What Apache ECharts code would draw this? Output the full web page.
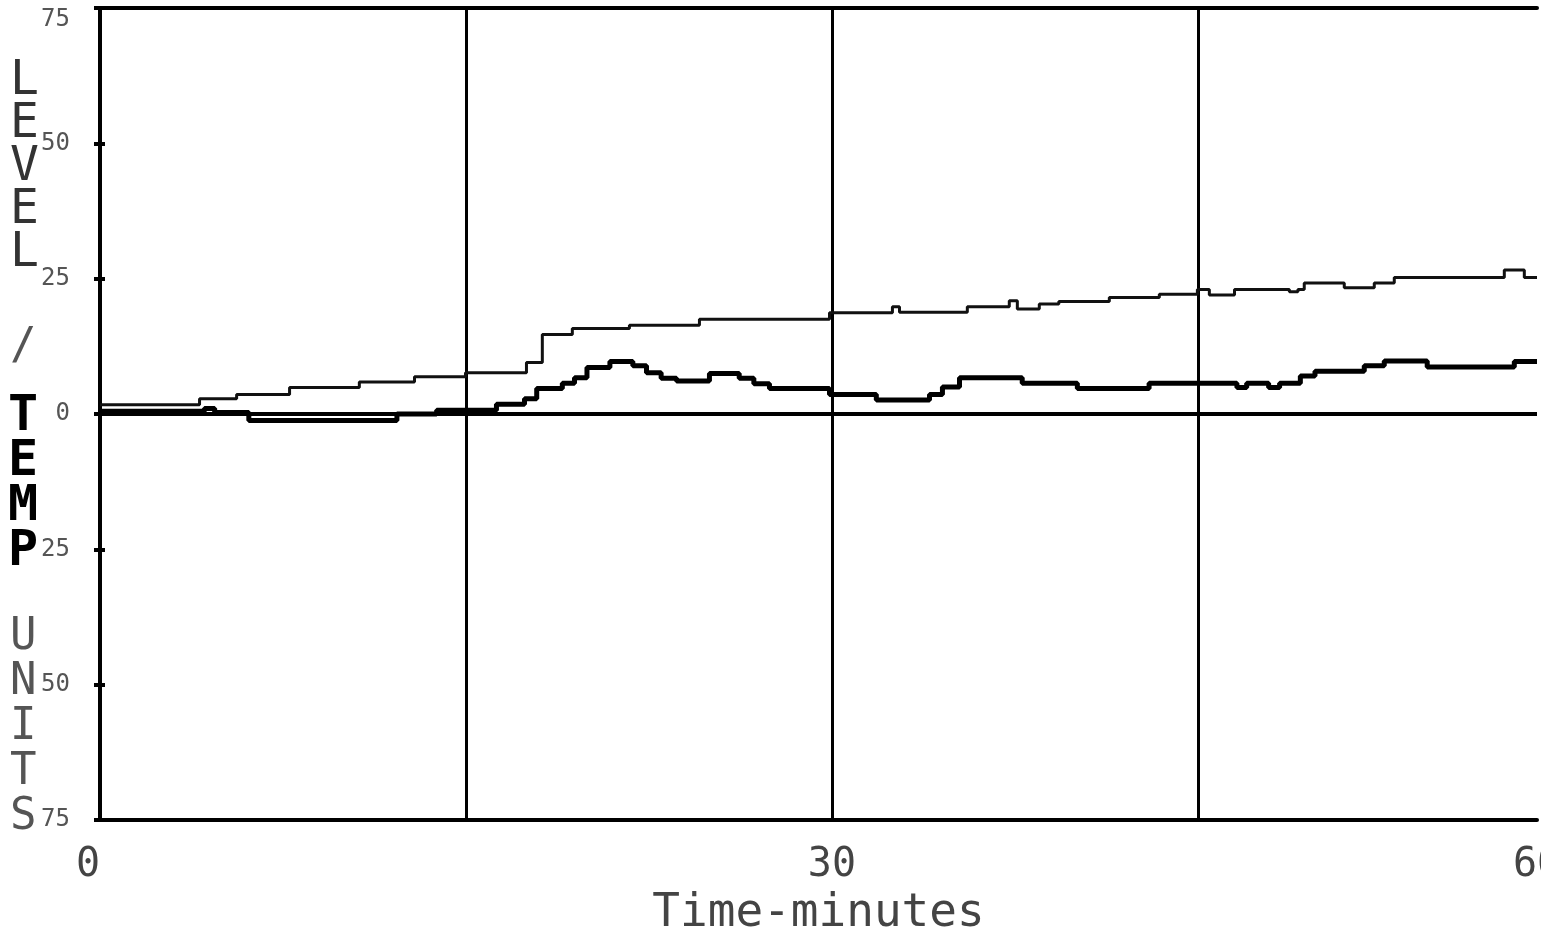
<!DOCTYPE html>
<html>
<head>
<meta charset="utf-8">
<title>Level / Temp</title>
<script src="https://cdn.jsdelivr.net/npm/echarts@6/dist/echarts.min.js"></script>
<style>
  html, body { margin: 0; padding: 0; background: #fff; }
  #chart { width: 1541px; height: 936px; }
</style>
</head>
<body>
<div id="chart"></div>
<script>
"use strict";
// minutes where each plateau starts, and its value
var levelTime = [0, 4.08, 5.6, 7.77, 10.63, 12.89, 14.98, 17.48, 18.13, 19.36, 21.7, 24.57, 29.9, 32.48, 32.77, 35.55, 37.27, 37.6, 38.5, 39.3, 41.37, 43.42, 44.98, 45.47, 46.5, 48.75, 49.1, 49.36, 51.0, 52.23, 53.05, 57.56, 58.38, 58.9];
var levelVal = [1.7, 2.8, 3.6, 4.9, 5.9, 6.9, 7.6, 9.5, 14.7, 15.8, 16.4, 17.5, 18.7, 19.8, 18.8, 19.8, 20.9, 19.4, 20.3, 20.8, 21.5, 22.1, 23.0, 22.0, 23.0, 22.6, 23.0, 24.2, 23.3, 24.2, 25.2, 26.6, 25.2, 25.2];

var tempTime = [0, 4.28, 4.7, 6.1, 12.17, 13.8, 16.25, 17.4, 17.9, 18.95, 19.45, 19.96, 20.9, 21.84, 22.4, 23.0, 23.63, 24.98, 26.2, 26.8, 27.44, 29.9, 31.82, 34.0, 34.53, 35.23, 37.8, 40.06, 43.0, 46.6, 47.0, 47.9, 48.35, 49.2, 49.8, 51.82, 52.64, 54.4, 57.97, 58.9];
var tempVal = [0.5, 1.0, 0.3, -1.2, 0, 0.7, 1.8, 2.8, 4.7, 5.7, 6.7, 8.6, 9.7, 8.9, 7.6, 6.6, 6.1, 7.5, 6.6, 5.6, 4.7, 3.6, 2.6, 3.6, 5.0, 6.7, 5.7, 4.7, 5.7, 4.9, 5.7, 4.9, 5.7, 7.0, 7.9, 8.9, 9.8, 8.7, 9.7, 9.7];

var xMin = 0, xMax = 58.9, xStep = 15;
var xShown = [0, 30];
var yMin = -75, yMax = 75, yStep = 25;

function pairs(xs, ys) {
	return xs.map(function (x, i) { return [x, ys[i]]; });
}

var mono = '"DejaVu Sans Mono", monospace';

var option = {
	backgroundColor: '#fff',
	animation: false,
	grid: { left: 100, right: 4, top: 8, bottom: 116, outerBoundsMode: 'none' },
	xAxis: [{
		type: 'value',
		min: xMin,
		max: xMax,
		interval: xStep,
		name: 'Time-minutes',
		nameLocation: 'middle',
		nameGap: 70,
		nameTextStyle: { fontFamily: mono, fontSize: 46, color: '#444' },
		axisLine: { onZero: false, lineStyle: { color: '#000', width: 4 } },
		axisTick: { show: false },
		axisLabel: {
			showMaxLabel: true,
			alignMinLabel: 'right',
			margin: 26,
			fontFamily: mono,
			fontSize: 40,
			color: '#444',
			formatter: function (v) {
				if (xShown.indexOf(v) >= 0) return String(v);
				return v > 50 ? '60' : '';
			}
		},
		splitLine: {
			show: true,
			showMinLine: false,
			showMaxLine: false,
			lineStyle: { color: '#000', width: 3 }
		}
	}, {
		type: 'value',
		position: 'top',
		min: xMin,
		max: xMax,
		axisLine: { show: true, onZero: false, lineStyle: { color: '#000', width: 4 } },
		axisTick: { show: false },
		axisLabel: { show: false },
		splitLine: { show: false }
	}],
	yAxis: [{
		type: 'value',
		min: yMin,
		max: yMax,
		interval: yStep,
		axisLine: { show: true, onZero: false, lineStyle: { color: '#000', width: 4 } },
		axisTick: { show: true, length: 6, lineStyle: { color: '#000', width: 4 } },
		axisLabel: {
			margin: 30,
			verticalAlignMaxLabel: 'top',
			fontFamily: mono,
			fontSize: 24,
			color: '#555',
			formatter: function (v) { return String(Math.abs(v)); }
		},
		splitLine: { show: false }
	}, {
		type: 'value',
		position: 'left',
		min: yMin,
		max: yMax,
		interval: yStep,
		axisLine: { show: false, onZero: false },
		axisTick: { show: true, inside: true, length: 5, lineStyle: { color: '#000', width: 4 } },
		axisLabel: { show: false },
		splitLine: { show: false }
	}],
	series: [{
		name: 'Level',
		type: 'line',
		step: 'end',
		showSymbol: false,
		data: pairs(levelTime, levelVal),
		lineStyle: { color: '#111', width: 3 },
		markLine: {
			silent: true,
			symbol: 'none',
			label: { show: false },
			lineStyle: { color: '#000', width: 4, type: 'solid' },
			data: [{ yAxis: 0 }]
		}
	}, {
		name: 'Temp',
		type: 'line',
		step: 'end',
		showSymbol: false,
		data: pairs(tempTime, tempVal),
		lineStyle: { color: '#000', width: 5 }
	}],
	graphic: [{
		type: 'text', left: 10, top: 58,
		style: { text: 'L\nE\nV\nE\nL', font: '48px ' + mono, lineHeight: 43, fill: '#333' }
	}, {
		type: 'text', left: 10, top: 326,
		style: { text: '/', font: '44px ' + mono, fill: '#555' }
	}, {
		type: 'text', left: 8, top: 392,
		style: { text: 'T\nE\nM\nP', font: 'bold 50px ' + mono, lineHeight: 45, fill: '#000' }
	}, {
		type: 'text', left: 10, top: 615,
		style: { text: 'U\nN\nI\nT\nS', font: '44px ' + mono, lineHeight: 45, fill: '#555' }
	}]
};

var chart = echarts.init(document.getElementById('chart'));
chart.setOption(option);
</script>
</body>
</html>
